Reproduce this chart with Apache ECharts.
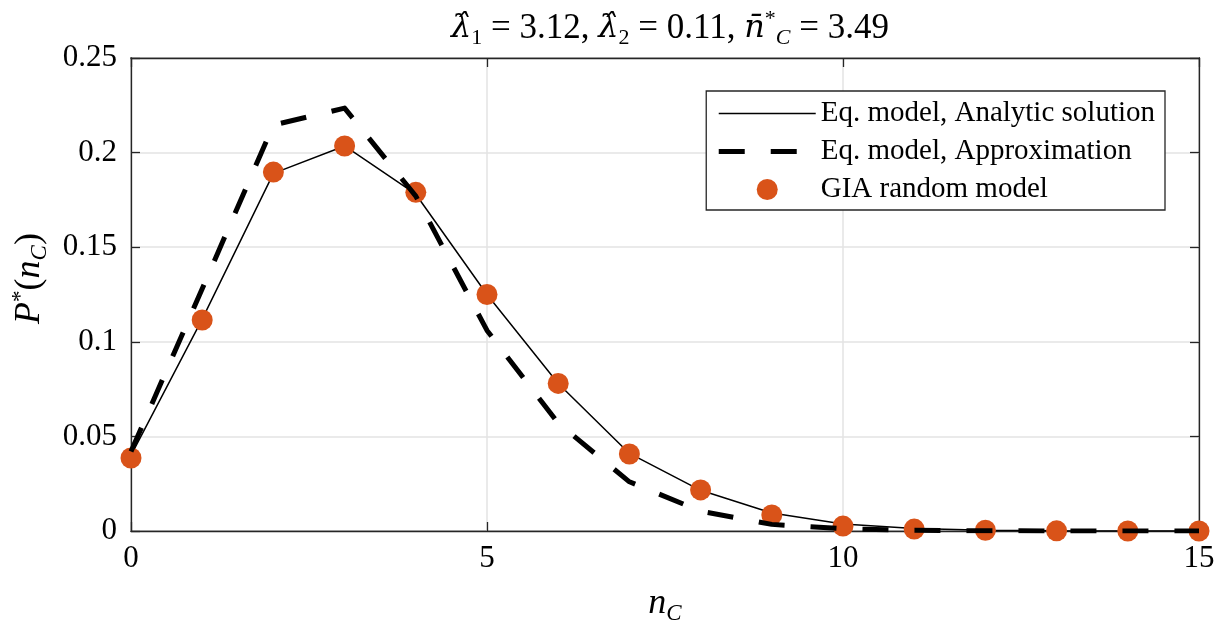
<!DOCTYPE html>
<html>
<head>
<meta charset="utf-8">
<script src="https://cdn.jsdelivr.net/npm/echarts@6/dist/echarts.min.js"></script>
<style>
  html, body { margin: 0; padding: 0; background: #fff; }
  #chart { width: 1227px; height: 628px; }
</style>
</head>
<body>
<div id="chart"></div>
<script>
// Number of clusters n_C
const nC = [0, 1, 2, 3, 4, 5, 6, 7, 8, 9, 10, 11, 12, 13, 14, 15];

// Equilibrium model, analytic solution
const analytic = [0.040, 0.112, 0.189, 0.2035, 0.178, 0.125, 0.078, 0.041, 0.0215, 0.0095,
                  0.0037, 0.0013, 0.0004, 0.0001, 0.00003, 0.00001];

// Equilibrium model, approximation
const approx = [0.042, 0.128, 0.2146, 0.2235, 0.177, 0.106, 0.057, 0.026, 0.0105, 0.0035,
                0.0012, 0.0004, 0.0001, 0.00003, 0.00001, 0.0];

// GIA random model
const gia = [0.0386, 0.1115, 0.1897, 0.2035, 0.179, 0.125, 0.078, 0.0407, 0.0217, 0.0085,
             0.0026, 0.001, 0.0004, 0.0001, 0.0, 0.0];

const xTicks = [0, 5, 10, 15];
const yTicks = [0, 0.05, 0.1, 0.15, 0.2, 0.25];

const FONT = '"Liberation Serif", "DejaVu Serif", serif';
const MATH = '"DejaVu Serif", "Liberation Serif", serif';
const AXIS = '#262626';
const ORANGE = '#D95319';

const pair = arr => arr.map((v, i) => [nC[i], v]);

const chart = echarts.init(document.getElementById('chart'), null, { renderer: 'canvas' });

const tickInside = { show: true, inside: true, length: 9, lineStyle: { color: AXIS, width: 1.3 } };

const mathRich = (size, sub) => ({
  r: { fontFamily: FONT, fontSize: size, fontWeight: 'normal', color: '#000', lineHeight: size + 6 },
  i: { fontFamily: FONT, fontSize: size, fontStyle: 'italic', fontWeight: 'normal', color: '#000', lineHeight: size + 6 },
  g: { fontFamily: MATH, fontSize: size - 3, fontStyle: 'italic', fontWeight: 'normal', color: '#000', lineHeight: size + 6 },
  s: { fontFamily: FONT, fontSize: sub, fontWeight: 'normal', color: '#000', lineHeight: sub, verticalAlign: 'bottom' },
  si: { fontFamily: FONT, fontSize: sub, fontStyle: 'italic', fontWeight: 'normal', color: '#000', lineHeight: sub, verticalAlign: 'bottom' },
  p: { fontFamily: FONT, fontSize: sub, fontWeight: 'normal', color: '#000', lineHeight: sub, verticalAlign: 'top' }
});

chart.setOption({
  animation: false,
  backgroundColor: '#fff',
  title: {
    left: 665,
    top: 3,
    textAlign: 'center',
    text: '{g|λ̂}{s|1}{r| = 3.12, }{g|λ̂}{s|2}{r| = 0.11, }{g|n̄}{p|*}{si|C}{r| = 3.49}',
    textStyle: { fontWeight: 'normal', rich: mathRich(35, 22) }
  },
  grid: {
    left: 131, right: 28, top: 58, bottom: 97,
    outerBoundsMode: 'none',
    containLabel: false,
    show: true, borderColor: AXIS, borderWidth: 1.3, backgroundColor: '#fff'
  },
  legend: {
    orient: 'vertical',
    right: 62,
    top: 91,
    backgroundColor: '#fff',
    borderColor: AXIS,
    borderWidth: 1.3,
    borderRadius: 0,
    padding: [8, 10, 6, 10],
    itemWidth: 97,
    itemHeight: 21,
    itemGap: 9,
    textStyle: { fontFamily: FONT, fontSize: 29, color: '#000', lineHeight: 28 },
    data: [
      { name: 'Eq. model, Analytic solution', itemStyle: { opacity: 0 }, lineStyle: { width: 1.5 } },
      { name: 'Eq. model, Approximation', itemStyle: { opacity: 0 }, lineStyle: { width: 5, type: [26, 26] } },
      { name: 'GIA random model' }
    ]
  },
  xAxis: [{
    type: 'value',
    min: 0, max: 15, interval: 5,
    position: 'bottom',
    axisLine: { show: true, onZero: false, lineStyle: { color: AXIS, width: 1.3 } },
    axisTick: tickInside,
    axisLabel: {
      fontFamily: FONT, fontSize: 31, color: '#000', margin: 12,
      formatter: v => xTicks.includes(v) ? String(v) : ''
    },
    splitLine: { show: true, lineStyle: { color: '#e3e3e3', width: 1.5 } },
    name: '{i|n}{si|C}',
    nameLocation: 'middle',
    nameGap: 52,
    nameTextStyle: { rich: mathRich(36, 23) }
  }, {
    type: 'value',
    min: 0, max: 15, interval: 5,
    position: 'top',
    axisLine: { show: true, onZero: false, lineStyle: { color: AXIS, width: 1.3 } },
    axisTick: tickInside,
    axisLabel: { show: false },
    splitLine: { show: false }
  }],
  yAxis: [{
    type: 'value',
    min: 0, max: 0.25, interval: 0.05,
    position: 'left',
    axisLine: { show: true, onZero: false, lineStyle: { color: AXIS, width: 1.3 } },
    axisTick: tickInside,
    axisLabel: {
      fontFamily: FONT, fontSize: 31, color: '#000', margin: 14,
      formatter: v => {
        const t = yTicks.find(k => Math.abs(k - v) < 1e-9);
        return t === undefined ? '' : String(t);
      }
    },
    splitLine: { show: true, lineStyle: { color: '#e3e3e3', width: 1.5 } },
    name: '{i|P}{p|*}{r|(}{i|n}{si|C}{r|)}',
    nameLocation: 'middle',
    nameRotate: 90,
    nameGap: 80,
    nameTextStyle: { padding: [0, 0, 0, 32], rich: mathRich(36, 23) }
  }, {
    type: 'value',
    min: 0, max: 0.25, interval: 0.05,
    position: 'right',
    axisLine: { show: true, onZero: false, lineStyle: { color: AXIS, width: 1.3 } },
    axisTick: tickInside,
    axisLabel: { show: false },
    splitLine: { show: false }
  }],
  series: [
    {
      name: 'Eq. model, Analytic solution',
      type: 'line',
      xAxisIndex: 0, yAxisIndex: 0,
      data: pair(analytic),
      symbol: 'none',
      lineStyle: { color: '#000', width: 1.5 },
      itemStyle: { color: '#000' },
      z: 2
    },
    {
      name: 'GIA random model',
      type: 'scatter',
      xAxisIndex: 0, yAxisIndex: 0,
      data: pair(gia),
      symbol: 'circle',
      symbolSize: 21,
      itemStyle: { color: ORANGE, opacity: 1 },
      z: 3
    },
    {
      name: 'Eq. model, Approximation',
      type: 'line',
      xAxisIndex: 0, yAxisIndex: 0,
      data: pair(approx),
      symbol: 'none',
      lineStyle: { color: '#000', width: 5, type: [26, 26], cap: 'butt', join: 'round' },
      itemStyle: { color: '#000' },
      z: 4
    }
  ]
});
</script>
</body>
</html>
